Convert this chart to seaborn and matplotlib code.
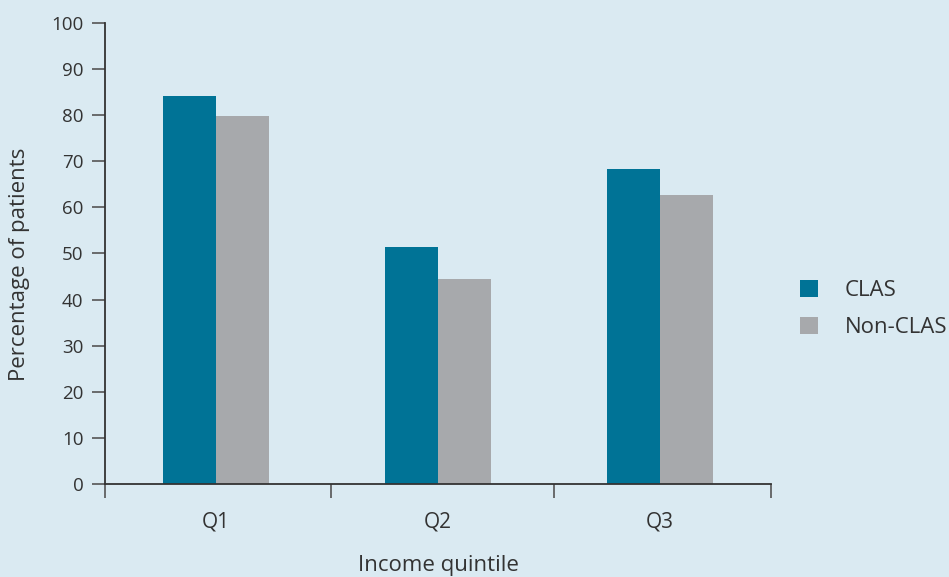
import matplotlib
matplotlib.use("Agg")
import matplotlib.pyplot as plt
import seaborn as sns
import pandas as pd
from matplotlib.patches import Patch
from matplotlib.ticker import FixedLocator

categories = ["Q1", "Q2", "Q3"]
clas_values = [84.2, 51.5, 68.3]
nonclas_values = [79.8, 44.4, 62.7]
series_names = ["CLAS", "Non-CLAS"]
yticks = list(range(0, 101, 10))

df = pd.DataFrame({
    "quintile": categories * 2,
    "value": clas_values + nonclas_values,
    "group": [series_names[0]] * 3 + [series_names[1]] * 3,
})

bg = "#daeaf2"
colors = {"CLAS": "#007396", "Non-CLAS": "#a7a9ac"}

sns.set_theme(style="white")
plt.rcParams["font.family"] = ["Open Sans", "DejaVu Sans"]

fig = plt.figure(figsize=(9.49, 5.77), dpi=100, facecolor=bg)
ax = fig.add_axes([105/949, 1-484/577, (771-105)/949, (484-23)/577])
ax.set_facecolor(bg)

sns.barplot(data=df, x="quintile", y="value", hue="group", palette=colors,
            width=0.48, saturation=1, ax=ax, legend=False, linewidth=0)

ax.set_xlim(-0.5, 2.5)
ax.set_ylim(0, 100)
ax.set_yticks(yticks)
ax.tick_params(axis="y", left=True, length=9.5, width=1.2, color="#555555", pad=6,
               labelsize=13.5, labelcolor="#333333")
ax.tick_params(axis="x", which="major", length=0, pad=20, labelsize=15, labelcolor="#333333")
ax.xaxis.set_minor_locator(FixedLocator([-0.5, 0.518, 1.522, 2.5]))
ax.tick_params(axis="x", which="minor", length=10, width=1.2, color="#555555", bottom=True)

for s in ["top", "right"]:
    ax.spines[s].set_visible(False)
for s in ["left", "bottom"]:
    ax.spines[s].set_color("#333333")
    ax.spines[s].set_linewidth(1.3)

ax.set_xlabel("Income quintile", fontsize=16, color="#333333", labelpad=16)
ax.set_ylabel("Percentage of patients", fontsize=16, color="#333333")
ax.yaxis.set_label_coords(-0.113, 0.477)

handles = [Patch(facecolor=colors[n], edgecolor="none", label=n) for n in series_names]
fig.legend(handles=handles, loc="center left", bbox_to_anchor=(780/949, 1-309/577),
           frameon=False, fontsize=16, handlelength=0.8, handleheight=0.8,
           handletextpad=1.2, labelspacing=0.7, labelcolor="#333333")

fig.savefig("out.png", dpi=100, facecolor=bg)
